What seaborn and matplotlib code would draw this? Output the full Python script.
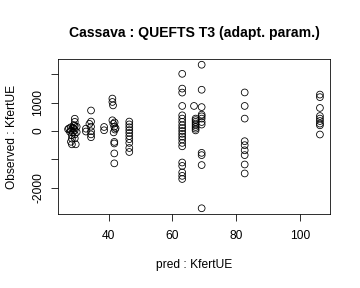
import matplotlib
matplotlib.use("Agg")
import matplotlib.pyplot as plt
import seaborn as sns
import pandas as pd

# predicted KfertUE (x) and observed KfertUE (y)
pred = [
    # cluster ~27-30
    27.3, 27.6, 27.9, 28.2, 28.2, 28.5, 28.5, 28.8, 28.8, 29.1, 29.4, 29.4,
    29.4, 29.4, 29.4, 29.4, 29.7, 28.5, 29.1, 30.0, 30.0, 28.2,
    # cluster ~33-35
    32.9, 34.5, 34.5, 34.5, 34.5, 34.5, 34.5, 32.9, 34.0,
    # ~39
    38.6, 38.6,
    # ~41-43
    41.2, 41.2, 41.4, 41.2, 41.5, 41.8, 42.0, 41.6, 41.9, 42.2, 41.8, 41.8,
    41.8, 41.8,
    # ~46.5
    46.5, 46.5, 46.5, 46.5, 46.5, 46.5, 46.5, 46.5, 46.5, 46.5,
    # ~63
    63.1, 63.1, 63.1, 63.1, 63.1, 63.1, 63.1, 63.1, 63.1, 63.1, 63.1, 63.1,
    63.1, 63.1, 63.1, 63.1, 63.1, 63.1, 63.1, 63.1,
    # ~67.3
    66.8, 67.3, 67.3, 67.3, 67.3, 67.3, 67.3, 67.3, 67.3,
    # ~69.2
    69.2, 69.2, 69.2, 69.2, 69.2, 69.2, 69.2, 69.2, 69.2, 69.2, 69.2, 69.2,
    # ~82.7
    82.7, 82.7, 82.7, 82.7, 82.7, 82.7, 82.7, 82.7, 82.7,
    # ~106
    106.3, 106.3, 106.3, 106.3, 106.3, 106.3, 106.3, 106.3, 106.3,
]
observed = [
    60, 90, -30, 130, 20, -150, -270, 110, -60, 200, 430, 320,
    180, 30, -120, -260, -470, -470, 80, 150, -40, -380,
    80, 720, 330, 150, -10, -120, -220, -20, 250,
    140, 25,
    1140, 1020, 900, 375, 250, 150, 50, -50, 300, 100, -385, -440,
    -790, -1140,
    330, 230, 130, 30, -70, -180, -290, -420, -600, -740,
    2010, 1490, 1350, 880, 550, 435, 320, 200, 100, 0, -100, -200,
    -300, -420, -540, -1110, -1230, -1460, -1580, -1690,
    880, 435, 380, 320, 260, 200, 140, 80, 20,
    2330, 1450, 840, 575, 515, 435, 315, 225, -770, -850, -1200, -2720,
    1355, 880, 435, -360, -500, -680, -850, -1180, -1495,
    1280, 1190, 810, 525, 435, 350, 260, 200, -125,
]

xticks = [40, 60, 80, 100]
xtick_labels = ["40", "60", "80", "100"]
yticks = [-2000, -1000, 0, 1000, 2000]
ytick_labels = ["-2000", "", "0", "1000", ""]

title = "Cassava : QUEFTS T3 (adapt. param.)"
xlabel = "pred : KfertUE"
ylabel = "Observed : KfertUE"

df = pd.DataFrame({"pred": pred, "obs": observed})

sns.set_style("white")
plt.rcParams["font.family"] = ["Liberation Sans", "DejaVu Sans"]
plt.rcParams["text.color"] = "black"
plt.rcParams["axes.labelcolor"] = "black"
plt.rcParams["xtick.color"] = "black"
plt.rcParams["ytick.color"] = "black"

fig = plt.figure(figsize=(5, 4), dpi=72)
ax = fig.add_axes([58 / 360, 1 - 214 / 288, (330 - 58) / 360, (214 - 59) / 288])

sns.scatterplot(data=df, x="pred", y="obs", ax=ax, s=46, marker="o",
                linewidth=0.8, legend=False)
coll = ax.collections[0]
coll.set_facecolor("none")
coll.set_edgecolor("black")

ax.margins(x=0.04, y=0.04)
ax.set_xticks(xticks)
ax.set_xticklabels(xtick_labels)
ax.set_yticks(yticks)
ax.set_yticklabels(ytick_labels, rotation=90, va="center")
ax.tick_params(axis="both", direction="out", length=7, width=0.8,
               labelsize=12, colors="black", pad=9, left=True, bottom=True)
ax.tick_params(axis="y", pad=7)
for sp in ax.spines.values():
    sp.set_visible(True)
    sp.set_color("black")
    sp.set_linewidth(0.8)

ax.set_xlabel(xlabel, fontsize=12, labelpad=17)
ax.set_ylabel(ylabel, fontsize=12, labelpad=14)
ax.set_title(title, fontsize=14, fontweight="bold", pad=22, color="black")

fig.savefig("out.png", dpi=72)
